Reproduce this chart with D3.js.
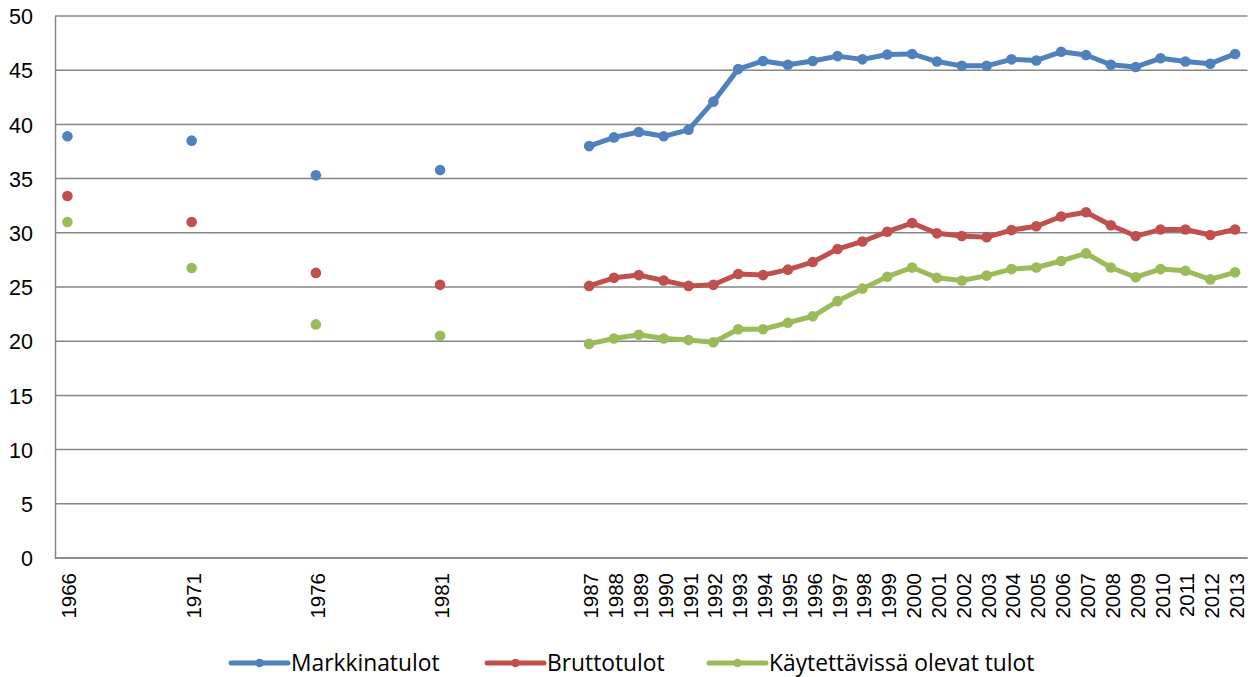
<!DOCTYPE html>
<html><head><meta charset="utf-8">
<script src="https://cdn.jsdelivr.net/npm/d3@7"></script>
<style>
html,body{margin:0;padding:0;background:#fff;}
svg{display:block;}
</style></head>
<body>
<svg id="chart" width="1253" height="677"></svg>
<script>
const years = [1966,1971,1976,1981,1987,1988,1989,1990,1991,1992,1993,1994,1995,1996,1997,1998,1999,2000,2001,2002,2003,2004,2005,2006,2007,2008,2009,2010,2011,2012,2013];
const markkinatulot = [38.9,38.5,35.3,35.8,38.0,38.8,39.3,38.9,39.5,42.1,45.1,45.85,45.5,45.85,46.3,46.0,46.45,46.5,45.8,45.4,45.4,46.0,45.9,46.7,46.4,45.5,45.3,46.1,45.8,45.6,46.5];
const bruttotulot = [33.4,31.0,26.3,25.2,25.1,25.85,26.1,25.6,25.1,25.2,26.2,26.1,26.6,27.3,28.5,29.2,30.1,30.9,29.95,29.7,29.6,30.25,30.6,31.5,31.9,30.7,29.7,30.3,30.3,29.8,30.3];
const kaytettavissa = [31.0,26.75,21.55,20.5,19.75,20.25,20.6,20.25,20.1,19.9,21.1,21.1,21.7,22.3,23.7,24.85,25.95,26.8,25.85,25.6,26.05,26.65,26.8,27.4,28.1,26.8,25.9,26.65,26.5,25.7,26.35];
const seriesNames = ["Markkinatulot","Bruttotulot","Käytettävissä olevat tulot"];
const seriesColors = ["#4F81BD","#C0504D","#9BBB59"];
const yTicks = [0,5,10,15,20,25,30,35,40,45,50];

(function(){
const series = [markkinatulot, bruttotulot, kaytettavissa].map((vals,i)=>({
  name: seriesNames[i], color: seriesColors[i],
  points: years.map((y,j)=>({year:y, value:vals[j]}))
}));

const svg = d3.select("#chart");
const pLeft = 55, pRight = 1247.5, pTop = 16, pBottom = 558;
const x = d3.scaleLinear().domain([1965.5, 2013.5]).range([pLeft, pRight]);
const y = d3.scaleLinear().domain([0, 50]).range([pBottom, pTop]);

// gridlines
svg.append("g").selectAll("line").data(yTicks).join("line")
  .attr("x1", pLeft).attr("x2", pRight)
  .attr("y1", d=>y(d)).attr("y2", d=>y(d))
  .attr("stroke", "#868686").attr("stroke-width", 1.5);

// y axis
const yAxis = d3.axisLeft(y).tickValues(yTicks).tickSize(0).tickPadding(22).tickFormat(d3.format("d"));
const yg = svg.append("g").attr("transform", `translate(${pLeft},0)`).call(yAxis);
yg.select(".domain").attr("stroke", "#868686").attr("stroke-width", 1.5);
yg.selectAll("text").attr("font-family", "Liberation Sans, Arial, sans-serif").attr("font-size", 21.5).attr("fill", "#000").attr("dy", "0.36em");

// x axis line
svg.append("line").attr("x1", pLeft).attr("x2", pRight).attr("y1", pBottom).attr("y2", pBottom)
  .attr("stroke", "#868686").attr("stroke-width", 1.5);

// x labels
svg.append("g").selectAll("text").data(years).join("text")
  .attr("transform", d=>`translate(${x(d)+1.5},${pBottom+15}) rotate(-90)`)
  .attr("text-anchor", "end").attr("dominant-baseline", "central")
  .attr("font-family", "Liberation Sans, Arial, sans-serif").attr("font-size", 20.5).attr("fill", "#000")
  .text(d=>d);

// lines in contiguous runs
function runs(points){
  const out = []; let cur = [];
  points.forEach((p,i)=>{
    if(i>0 && p.year - points[i-1].year !== 1){ out.push(cur); cur = []; }
    cur.push(p);
  });
  out.push(cur);
  return out.filter(r=>r.length>1);
}
const line = d3.line().x(d=>x(d.year)).y(d=>y(d.value));
series.forEach(s=>{
  const g = svg.append("g");
  g.selectAll("path").data(runs(s.points)).join("path")
    .attr("d", line).attr("fill", "none").attr("stroke", s.color)
    .attr("stroke-width", 5).attr("stroke-linejoin", "round").attr("stroke-linecap", "round");
  g.selectAll("circle").data(s.points).join("circle")
    .attr("cx", d=>x(d.year)).attr("cy", d=>y(d.value)).attr("r", 5.3)
    .attr("fill", s.color);
});

// legend
const legend = svg.append("g");
const lx = [231, 487, 709];
series.forEach((s,i)=>{
  const g = legend.append("g").attr("transform", `translate(${lx[i]},663)`);
  g.append("line").attr("x1", 0).attr("x2", 57).attr("y1", 0).attr("y2", 0)
    .attr("stroke", s.color).attr("stroke-width", 5).attr("stroke-linecap", "round");
  g.append("circle").attr("cx", 28.5).attr("cy", 0).attr("r", 4.3).attr("fill", s.color);
  g.append("text").attr("x", 60).attr("y", 8)
    .attr("font-family", "Open Sans, sans-serif").attr("font-size", 22.8).attr("fill", "#000")
    .text(s.name);
});
})();
</script>
</body></html>
